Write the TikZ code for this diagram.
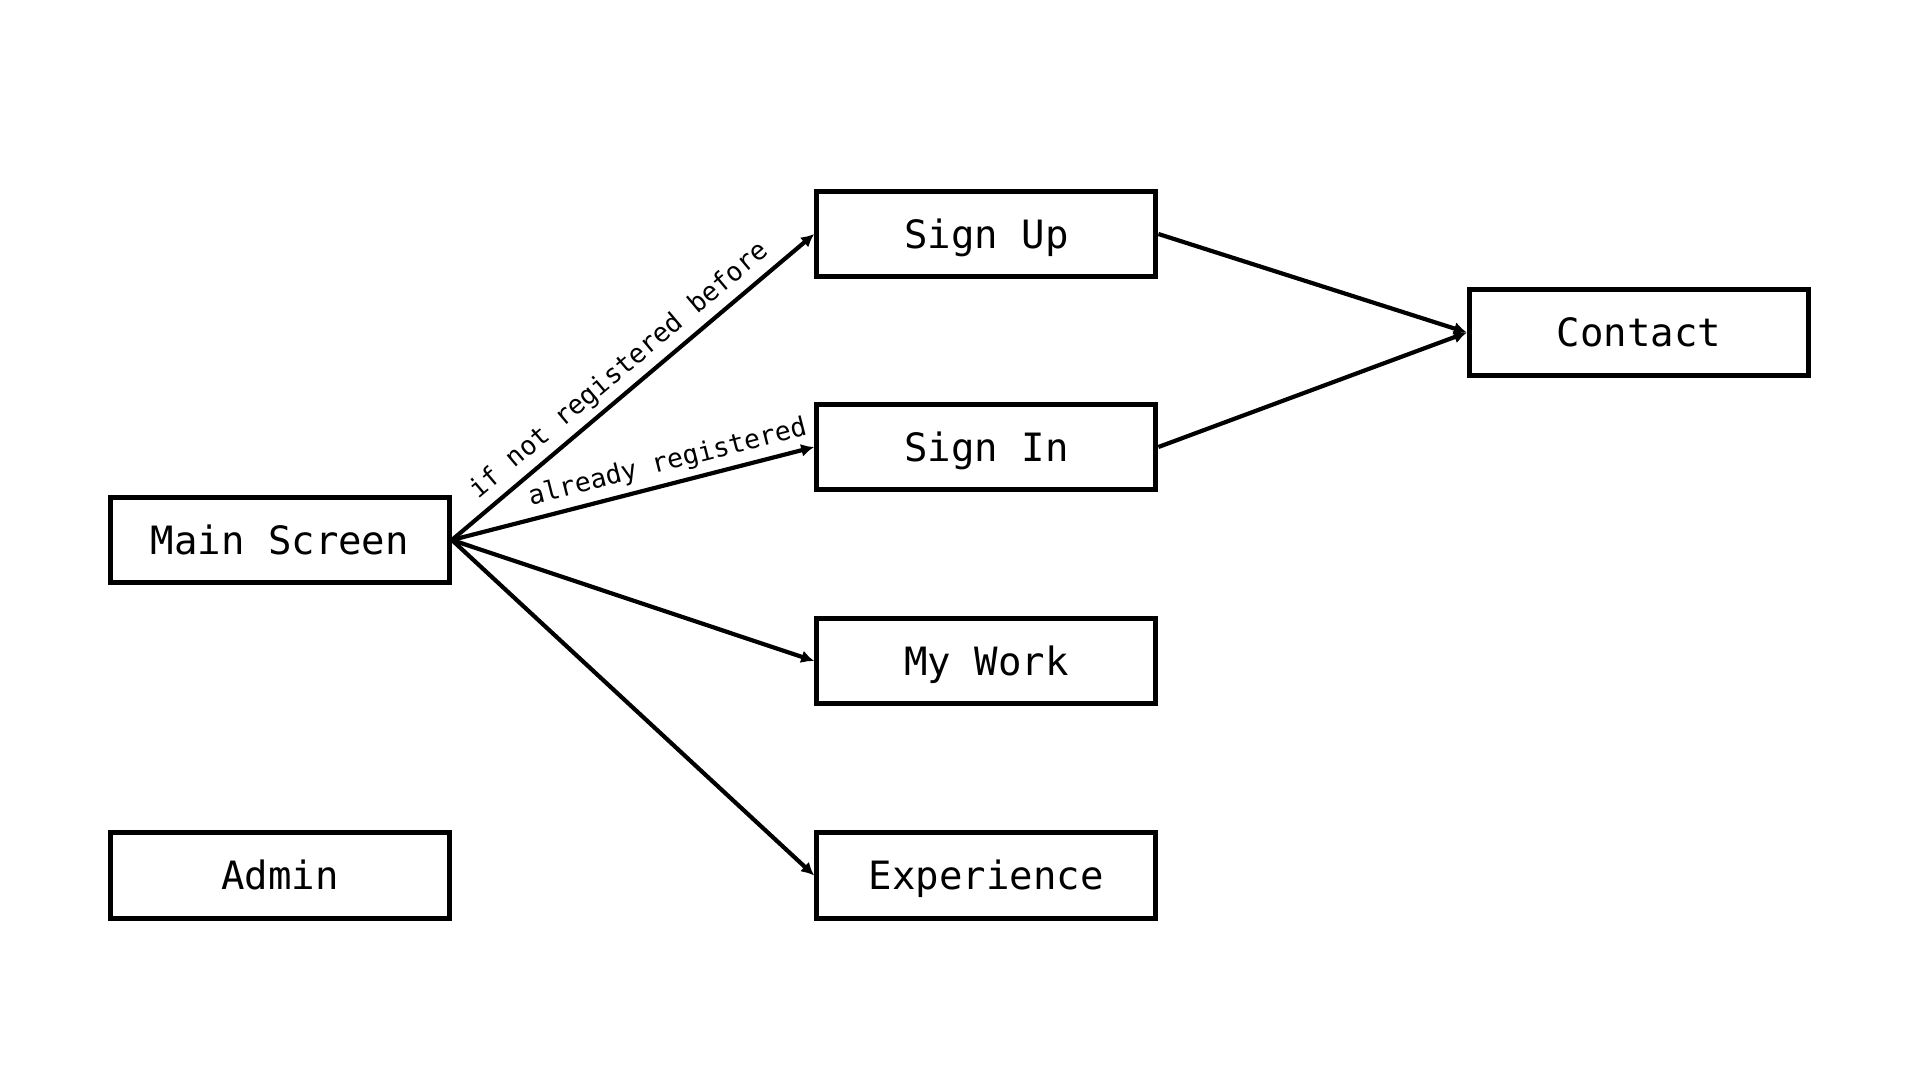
\documentclass[tikz,border=0pt]{standalone}
\usepackage{fontspec}
\setmonofont{DejaVu Sans Mono}
\usetikzlibrary{arrows.meta}
\begin{document}
\begin{tikzpicture}[x=0.5pt,y=-0.5pt,
  box/.style={draw=black,line width=2.5pt,minimum width=169.6pt,minimum height=42.6pt,
    inner sep=0pt,text height=14.2pt,text depth=0pt,
    font=\ttfamily\fontsize{19.5pt}{23pt}\selectfont},
  conn/.style={line width=2.1pt,-{Latex[length=6.5pt,width=6.5pt]}},
  lbl/.style={font=\ttfamily\fontsize{13.2pt}{16pt}\selectfont,sloped,above,inner sep=3pt}]
\useasboundingbox[fill=white] (0,0) rectangle (1920,1080);
\node[box] (main) at (279.8,540) {Main Screen};
\node[box] (admin) at (279.8,875.5) {Admin};
\node[box] (signup) at (986.3,234) {Sign Up};
\node[box] (signin) at (986.3,447) {Sign In};
\node[box] (work) at (986.3,661) {My Work};
\node[box] (exp) at (986.3,875.5) {Experience};
\node[box] (contact) at (1639,332.5) {Contact};
\draw[conn] (main.east) -- node[lbl,pos=0.5] {if not registered before} (signup.west);
\draw[conn] (main.east) -- node[lbl,pos=0.61] {already registered} (signin.west);
\draw[conn] (main.east) -- (work.west);
\draw[conn] (main.east) -- (exp.west);
\draw[conn] (signup.east) -- (contact.west);
\draw[conn] (signin.east) -- (contact.west);
\end{tikzpicture}
\end{document}
